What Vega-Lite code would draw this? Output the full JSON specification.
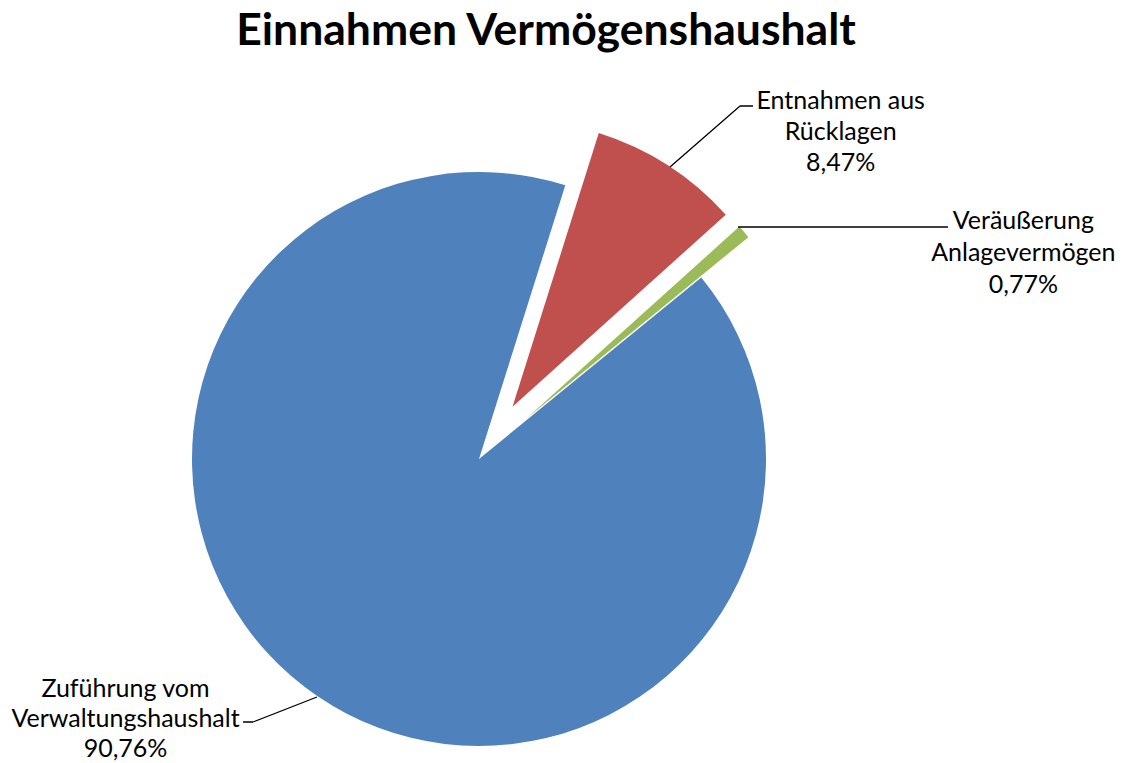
{
  "$schema": "https://vega.github.io/schema/vega-lite/v6.json",
  "width": 958,
  "height": 608,
  "autosize": {"type": "none"},
  "padding": {"left": 0, "top": 155, "right": 167, "bottom": 0},
  "background": "white",
  "config": {"view": {"stroke": null}},
  "title": {"text": "Einnahmen Vermögenshaushalt", "font": "Lato", "fontSize": 44.5, "fontWeight": "bold", "color": "black", "baseline": "alphabetic", "offset": 0, "dx": 67, "anchor": "middle"},
  "data": {"values": [
    {"category": "Entnahmen aus Rücklagen", "value": 8.47, "label": "Entnahmen aus\nRücklagen\n8,47%"},
    {"category": "Veräußerung Anlagevermögen", "value": 0.77, "label": "Veräußerung\nAnlagevermögen\n0,77%"},
    {"category": "Zuführung vom Verwaltungshaushalt", "value": 90.76, "label": "Zuführung vom\nVerwaltungshaushalt\n90,76%"}
  ]},
  "transform": [{"stack": "value", "groupby": [], "sort": [{"field": "category", "order": "ascending"}], "as": ["v0", "v1"]}],
  "layer": [
    {
      "transform": [{"filter": "datum.category === 'Zuführung vom Verwaltungshaushalt'"}],
      "mark": {"type": "arc", "radius": 287},
      "encoding": {
        "theta": {"field": "v0", "type": "quantitative", "scale": {"domain": [0, 100], "range": [0.3054, 6.5886]}},
        "theta2": {"field": "v1"},
        "color": {"field": "category", "type": "nominal", "legend": null, "scale": {"domain": ["Entnahmen aus Rücklagen", "Veräußerung Anlagevermögen", "Zuführung vom Verwaltungshaushalt"], "range": ["#C0504D", "#9BBB59", "#4F81BD"]}}
      }
    },
    {
      "transform": [{"filter": "datum.category === 'Entnahmen aus Rücklagen'"}],
      "mark": {"type": "arc", "radius": 287, "xOffset": 33.5, "yOffset": -52.2},
      "encoding": {
        "theta": {"field": "v0", "type": "quantitative", "scale": {"domain": [0, 100], "range": [0.3054, 6.5886]}},
        "theta2": {"field": "v1"},
        "color": {"field": "category", "type": "nominal", "legend": null}
      }
    },
    {
      "transform": [{"filter": "datum.category === 'Veräußerung Anlagevermögen'"}],
      "mark": {"type": "arc", "radius": 287, "xOffset": 47.1, "yOffset": -40.3},
      "encoding": {
        "theta": {"field": "v0", "type": "quantitative", "scale": {"domain": [0, 100], "range": [0.3054, 6.5886]}},
        "theta2": {"field": "v1"},
        "color": {"field": "category", "type": "nominal", "legend": null}
      }
    },
    {
      "transform": [{"filter": "datum.category === 'Entnahmen aus Rücklagen'"}],
      "mark": {"type": "arc", "filled": false, "stroke": "black", "strokeWidth": 1.3, "theta": 0.854, "theta2": 0.854, "radius": 192.85, "radius2": 100, "xOffset": 115.61, "yOffset": -226.3},
      "encoding": {}
    },
    {
      "transform": [{"filter": "datum.category === 'Entnahmen aus Rücklagen'"}],
      "mark": {"type": "arc", "filled": false, "stroke": "black", "strokeWidth": 1.3, "theta": 1.5708, "theta2": 1.5708, "radius": 113, "radius2": 100, "xOffset": 161, "yOffset": -353},
      "encoding": {}
    },
    {
      "transform": [{"filter": "datum.category === 'Veräußerung Anlagevermögen'"}],
      "mark": {"type": "arc", "filled": false, "stroke": "black", "strokeWidth": 1.3, "theta": 1.5708, "theta2": 1.5708, "radius": 310, "radius2": 100, "xOffset": 159, "yOffset": -232},
      "encoding": {}
    },
    {
      "transform": [{"filter": "datum.category === 'Zuführung vom Verwaltungshaushalt'"}],
      "mark": {"type": "arc", "filled": false, "stroke": "black", "strokeWidth": 1.3, "theta": 4.3399, "theta2": 4.3399, "radius": 168.7, "radius2": 100, "xOffset": -68.85, "yOffset": 201.62},
      "encoding": {}
    },
    {
      "transform": [{"filter": "datum.category === 'Zuführung vom Verwaltungshaushalt'"}],
      "mark": {"type": "arc", "filled": false, "stroke": "black", "strokeWidth": 1.3, "theta": 4.7124, "theta2": 4.7124, "radius": 110, "radius2": 100, "xOffset": -126, "yOffset": 263},
      "encoding": {}
    },
    {
      "transform": [{"filter": "datum.category === 'Entnahmen aus Rücklagen'"}],
      "mark": {"type": "text", "font": "Lato", "fontSize": 25, "lineHeight": 31, "lineBreak": "\n", "align": "center", "baseline": "middle", "color": "black", "radius": 508.9, "thetaOffset": 0.4852},
      "encoding": {
        "theta": {"field": "v0", "type": "quantitative", "scale": {"domain": [0, 100], "range": [0.3054, 6.5886]}},
        "text": {"field": "label"}
      }
    },
    {
      "transform": [{"filter": "datum.category === 'Veräußerung Anlagevermögen'"}],
      "mark": {"type": "text", "font": "Lato", "fontSize": 25, "lineHeight": 32, "lineBreak": "\n", "align": "center", "baseline": "middle", "color": "black", "radius": 593.9, "thetaOffset": 0.3218},
      "encoding": {
        "theta": {"field": "v0", "type": "quantitative", "scale": {"domain": [0, 100], "range": [0.3054, 6.5886]}},
        "text": {"field": "label"}
      }
    },
    {
      "transform": [{"filter": "datum.category === 'Zuführung vom Verwaltungshaushalt'"}],
      "mark": {"type": "text", "font": "Lato", "fontSize": 25, "lineHeight": 30, "lineBreak": "\n", "align": "center", "baseline": "middle", "color": "black", "radius": 422.0, "thetaOffset": 3.2486},
      "encoding": {
        "theta": {"field": "v0", "type": "quantitative", "scale": {"domain": [0, 100], "range": [0.3054, 6.5886]}},
        "text": {"field": "label"}
      }
    }
  ]
}
